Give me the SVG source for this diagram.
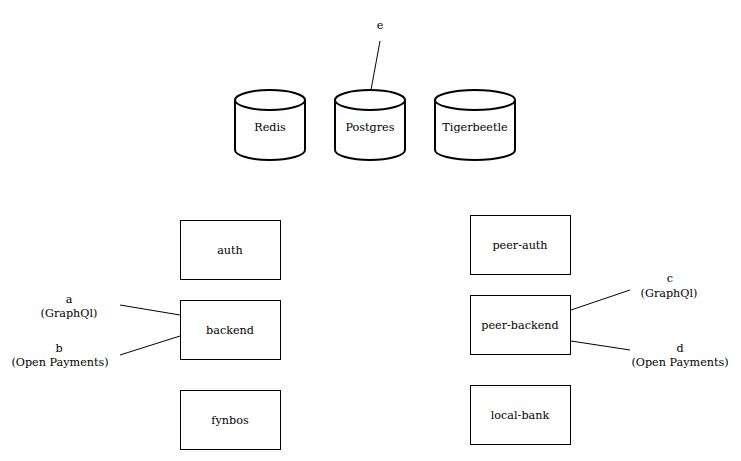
<svg xmlns="http://www.w3.org/2000/svg" width="741" height="461" viewBox="0 0 741 461">
<style>
text{font-family:"DejaVu Serif","Liberation Serif",serif;font-size:11.2px;fill:#000;text-anchor:middle}
.box{fill:#fff;stroke:#000;stroke-width:1}
.cyl{fill:#fff;stroke:#000;stroke-width:2}
.conn line{stroke:#000;stroke-width:1}
</style>
<rect width="741" height="461" fill="#fff"/>
<g class="conn">
<line x1="371" y1="90" x2="380" y2="41"/>
<line x1="120" y1="305" x2="180" y2="315"/>
<line x1="120" y1="355" x2="180" y2="336"/>
<line x1="571" y1="310" x2="630" y2="290"/>
<line x1="571" y1="341" x2="630" y2="350"/>
</g>
<g id="redis">
<path class="cyl" d="M235,100 A35,10 0 0 1 305,100 L305,150 A35,10 0 0 1 235,150 Z"/>
<path class="cyl" d="M235,100 A35,10 0 0 0 305,100" fill="none"/>
<text x="270" y="131">Redis</text>
</g>
<g id="postgres">
<path class="cyl" d="M335,100 A35,10 0 0 1 405,100 L405,150 A35,10 0 0 1 335,150 Z"/>
<path class="cyl" d="M335,100 A35,10 0 0 0 405,100" fill="none"/>
<text x="370" y="131">Postgres</text>
</g>
<g id="tigerbeetle">
<path class="cyl" d="M435,100 A40,10 0 0 1 515,100 L515,150 A40,10 0 0 1 435,150 Z"/>
<path class="cyl" d="M435,100 A40,10 0 0 0 515,100" fill="none"/>
<text x="475" y="131">Tigerbeetle</text>
</g>
<g id="e"><text x="380" y="29">e</text></g>
<g id="auth"><rect class="box" x="180.5" y="220.5" width="100" height="59"/><text x="230" y="254">auth</text></g>
<g id="backend"><rect class="box" x="180.5" y="300.5" width="100" height="59"/><text x="230" y="334">backend</text></g>
<g id="fynbos"><rect class="box" x="180.5" y="390.5" width="100" height="59"/><text x="230" y="424">fynbos</text></g>
<g id="peer-auth"><rect class="box" x="470.5" y="215.5" width="100" height="59"/><text x="520" y="249">peer-auth</text></g>
<g id="peer-backend"><rect class="box" x="470.5" y="295.5" width="100" height="59"/><text x="520" y="329">peer-backend</text></g>
<g id="local-bank"><rect class="box" x="470.5" y="385.5" width="100" height="59"/><text x="520" y="419">local-bank</text></g>
<g id="a"><text x="69" y="303">a</text><text x="69" y="317">(GraphQl)</text></g>
<g id="b"><text x="59" y="352">b</text><text x="60" y="366">(Open Payments)</text></g>
<g id="c"><text x="670" y="282">c</text><text x="669" y="297">(GraphQl)</text></g>
<g id="d"><text x="680" y="352">d</text><text x="680" y="366">(Open Payments)</text></g>
</svg>
